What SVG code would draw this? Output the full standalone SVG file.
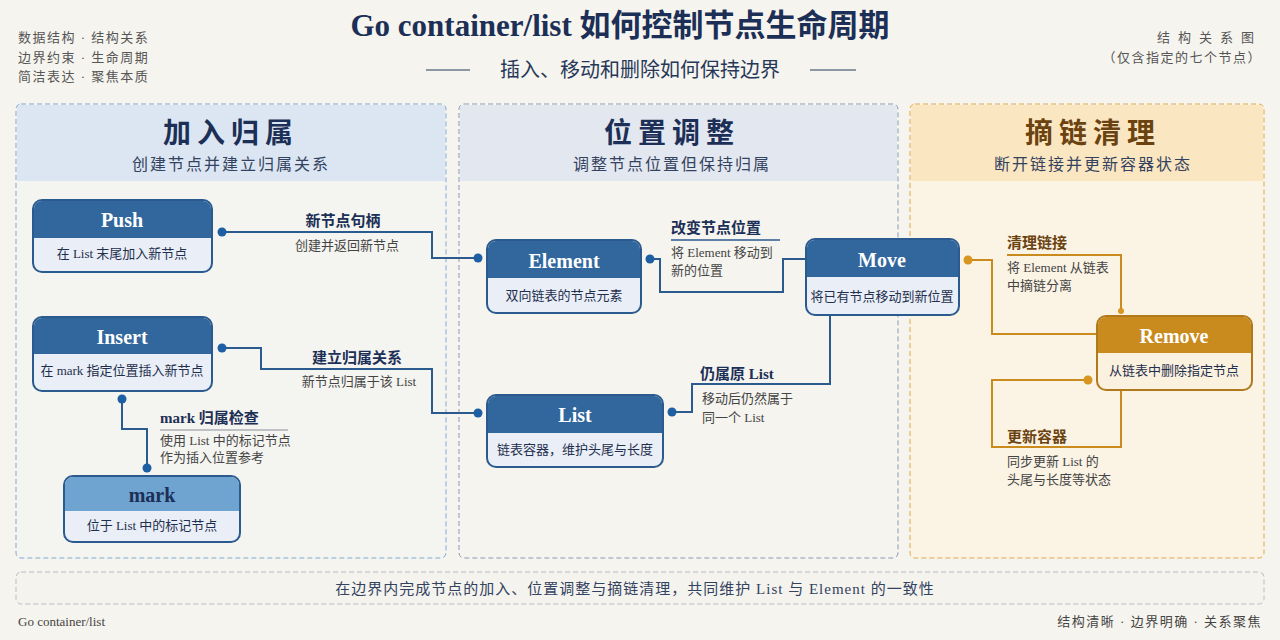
<svg xmlns="http://www.w3.org/2000/svg" width="1280" height="640" viewBox="0 0 1280 640">
<style>
text{font-family:"Liberation Serif","Noto Sans CJK SC",serif}
.meta{font-size:13px;fill:#555;letter-spacing:1.5px}
.ptitle{font-size:28px;font-weight:bold;fill:#1c2f56;letter-spacing:6px;text-anchor:middle}
.psub{font-size:16px;fill:#33425e;letter-spacing:2px;text-anchor:middle}
.nh{fill:#31679d}
.nb{fill:#e9eef7;stroke:#2b5a8e;stroke-width:2}
.nt{font-size:20px;font-weight:bold;fill:#fff;text-anchor:middle}
.nd{font-size:13px;fill:#1f2f4d;text-anchor:middle}
.c{fill:none;stroke:#2b5a8e;stroke-width:2}
.co{fill:none;stroke:#c98a1e;stroke-width:2}
.dot{fill:#1e5fa3}
.doto{fill:#d8951f}
.lt{font-size:15px;font-weight:bold;fill:#1c2f56}
.ltt{font-size:15px;font-weight:bold;fill:#6b4310}
.ld{font-size:13px;fill:#444}
</style>
<rect width="1280" height="640" fill="#f6f4ee"/>
<text x="620" y="36" text-anchor="middle" font-size="31" font-weight="bold" fill="#1c2f56">Go container/list 如何控制节点生命周期</text>
<text x="640" y="77" text-anchor="middle" font-size="20" fill="#26385a">插入、移动和删除如何保持边界</text>
<line x1="426" y1="70" x2="470" y2="70" stroke="#26385a" stroke-width="1.2"/>
<line x1="810" y1="70" x2="856" y2="70" stroke="#26385a" stroke-width="1.2"/>
<text class="meta" x="18" y="42">数据结构 · 结构关系</text>
<text class="meta" x="18" y="62">边界约束 · 生命周期</text>
<text class="meta" x="18" y="81">简洁表达 · 聚焦本质</text>
<text class="meta" x="1262" y="42" text-anchor="end" style="letter-spacing:8px">结构关系图</text>
<text class="meta" x="1262" y="62" text-anchor="end">（仅含指定的七个节点）</text>

<g id="panel-join">
<rect x="16" y="104" width="430" height="454" rx="5" fill="#f4f4f0" stroke="#7fa9d0" stroke-dasharray="5 3"/>
<path d="M17 181V109a4 4 0 0 1 4-4H441a4 4 0 0 1 4 4V181Z" fill="#dbe6f2"/>
<text class="ptitle" x="231" y="143">加入归属</text>
<text class="psub" x="231" y="170">创建节点并建立归属关系</text>
</g>
<g id="panel-move">
<rect x="459" y="104" width="439" height="454" rx="5" fill="#f5f4ef" stroke="#8a99b8" stroke-dasharray="5 3"/>
<path d="M460 181V109a4 4 0 0 1 4-4H893a4 4 0 0 1 4 4V181Z" fill="#e3e7f0"/>
<text class="ptitle" x="672" y="143">位置调整</text>
<text class="psub" x="672" y="170">调整节点位置但保持归属</text>
</g>
<g id="panel-clean">
<rect x="910" y="104" width="354" height="454" rx="5" fill="#fbf3e4" stroke="#e0a84a" stroke-dasharray="5 3"/>
<path d="M911 181V109a4 4 0 0 1 4-4H1259a4 4 0 0 1 4 4V181Z" fill="#fbe6c2"/>
<text class="ptitle" x="1093" y="143" style="fill:#6b4310">摘链清理</text>
<text class="psub" x="1093" y="170">断开链接并更新容器状态</text>
</g>
<rect x="16" y="572" width="1248" height="32" rx="5" fill="#f4f3ee" stroke="#b8bcc4" stroke-dasharray="5 3"/>
<text x="635" y="594" text-anchor="middle" font-size="15" fill="#33425e" letter-spacing="1">在边界内完成节点的加入、位置调整与摘链清理，共同维护 List 与 Element 的一致性</text>
<text x="18" y="626" font-size="13" fill="#444">Go  container/list</text>
<text x="1262" y="626" text-anchor="end" font-size="13" fill="#444" letter-spacing="1.5">结构清晰 · 边界明确 · 关系聚焦</text>

<g id="connectors">
<path class="c" d="M222 232H432V258H477"/>
<circle class="dot" cx="222" cy="232" r="4.5"/><circle class="dot" cx="478" cy="258" r="4.5"/>
<text class="lt" x="343" y="226" text-anchor="middle">新节点句柄</text>
<text class="ld" x="347" y="250" text-anchor="middle">创建并返回新节点</text>

<path class="c" d="M222 348H261V369H432V413H477"/>
<circle class="dot" cx="222" cy="348" r="4.5"/><circle class="dot" cx="478" cy="413" r="4.5"/>
<text class="lt" x="357" y="363" text-anchor="middle">建立归属关系</text>
<text class="ld" x="359" y="386" text-anchor="middle">新节点归属于该 List</text>

<path class="c" d="M122 399V429H147V468"/>
<circle class="dot" cx="122" cy="399" r="4.5"/><circle class="dot" cx="147" cy="468" r="4.5"/>
<text class="lt" x="160" y="423">mark 归属检查</text>
<line x1="160" y1="430" x2="288" y2="430" stroke="#8a8f99" stroke-width="1"/>
<text class="ld" x="160" y="445">使用 List 中的标记节点</text>
<text class="ld" x="160" y="462">作为插入位置参考</text>

<path class="c" d="M650 259H660V292H783V259H806"/>
<circle class="dot" cx="650" cy="259" r="4.5"/>
<text class="lt" x="671" y="233">改变节点位置</text>
<line x1="671" y1="240" x2="780" y2="240" stroke="#2b5a8e" stroke-width="1.5"/>
<text class="ld" x="671" y="257">将 Element 移动到</text>
<text class="ld" x="671" y="275">新的位置</text>

<path class="c" d="M672 412H692V384H830V315"/>
<circle class="dot" cx="672" cy="412" r="4.5"/>
<text class="lt" x="700" y="379">仍属原 List</text>
<text class="ld" x="702" y="403">移动后仍然属于</text>
<text class="ld" x="702" y="422">同一个 List</text>

<path class="co" d="M968 260H992V334H1097"/>
<circle class="doto" cx="968" cy="260" r="4.5"/>
<path class="co" d="M1007 255H1121V311"/>
<circle class="doto" cx="1121" cy="311" r="3"/>
<text class="ltt" x="1007" y="248">清理链接</text>
<text class="ld" x="1007" y="272">将 Element 从链表</text>
<text class="ld" x="1007" y="290">中摘链分离</text>

<path class="co" d="M1088 380H992V447H1121V390"/>
<circle class="doto" cx="1088" cy="380" r="4.5"/>
<text class="ltt" x="1007" y="442">更新容器</text>
<text class="ld" x="1007" y="466">同步更新 List 的</text>
<text class="ld" x="1007" y="484">头尾与长度等状态</text>
</g>

<g id="node-push">
<rect class="nb" x="33" y="200" width="179" height="72" rx="9"/>
<path class="nh" d="M34 238V209a8 8 0 0 1 8-8H203a8 8 0 0 1 8 8V238Z"/>
<text class="nt" x="122" y="227">Push</text>
<text class="nd" x="122" y="258">在 List 末尾加入新节点</text>
</g>
<g id="node-insert">
<rect class="nb" x="33" y="317" width="179" height="74" rx="9"/>
<path class="nh" d="M34 354V326a8 8 0 0 1 8-8H203a8 8 0 0 1 8 8V354Z"/>
<text class="nt" x="122" y="344">Insert</text>
<text class="nd" x="122" y="375">在 mark 指定位置插入新节点</text>
</g>
<g id="node-mark">
<rect class="nb" x="64" y="476" width="176" height="66" rx="9"/>
<path d="M65 511V485a8 8 0 0 1 8-8H231a8 8 0 0 1 8 8V511Z" fill="#6fa3d0"/>
<text class="nt" x="152" y="502" style="fill:#1c2f56">mark</text>
<text class="nd" x="152" y="530">位于 List 中的标记节点</text>
</g>
<g id="node-element">
<rect class="nb" x="487" y="240" width="154" height="73" rx="9"/>
<path class="nh" d="M488 278V249a8 8 0 0 1 8-8H632a8 8 0 0 1 8 8V278Z"/>
<text class="nt" x="564" y="268">Element</text>
<text class="nd" x="564" y="300">双向链表的节点元素</text>
</g>
<g id="node-list">
<rect class="nb" x="487" y="395" width="176" height="72" rx="9"/>
<path class="nh" d="M488 433V404a8 8 0 0 1 8-8H654a8 8 0 0 1 8 8V433Z"/>
<text class="nt" x="575" y="422">List</text>
<text class="nd" x="575" y="454">链表容器，维护头尾与长度</text>
</g>
<g id="node-move">
<rect class="nb" x="806" y="239" width="153" height="76" rx="9"/>
<path class="nh" d="M807 277V248a8 8 0 0 1 8-8H950a8 8 0 0 1 8 8V277Z"/>
<text class="nt" x="882" y="267">Move</text>
<text class="nd" x="882" y="301">将已有节点移动到新位置</text>
</g>
<g id="node-remove">
<rect x="1097" y="316" width="155" height="74" rx="9" fill="#fbf1df" stroke="#b07a1c" stroke-width="2"/>
<path d="M1098 353V325a8 8 0 0 1 8-8H1243a8 8 0 0 1 8 8V353Z" fill="#c98a1e"/>
<text class="nt" x="1174" y="343">Remove</text>
<text class="nd" x="1174" y="375">从链表中删除指定节点</text>
</g>
</svg>
